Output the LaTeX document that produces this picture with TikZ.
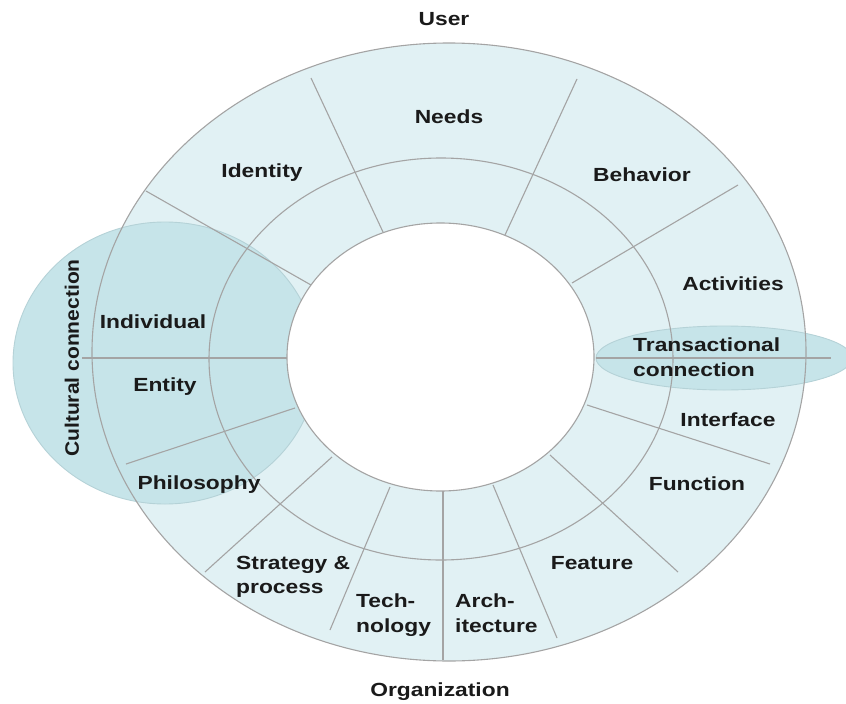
\documentclass[tikz,border=0pt]{standalone}
\usepackage{fontspec}
\newfontfamily\labfont{Liberation Sans}[FakeStretch=1.2]
\newfontfamily\vlabfont{Liberation Sans}[FakeStretch=1.08]
\definecolor{ringfill}{HTML}{E1F1F4}
\definecolor{connfill}{HTML}{C6E4E9}
\definecolor{connline}{HTML}{B5D2D7}
\definecolor{divline}{HTML}{A4A4A4}
\definecolor{txt}{HTML}{1A1A1A}
\begin{document}
\begin{tikzpicture}[x=1pt,y=-1pt,
  lbl/.style={font=\labfont\bfseries\fontsize{19}{24.5}\selectfont, text=txt, inner sep=0pt},
  mlbl/.style={lbl, align=left, anchor=north west},
  vlbl/.style={font=\vlabfont\bfseries\fontsize{19.5}{24}\selectfont, text=txt, inner sep=0pt, rotate=90},
  divider/.style={draw=divline, line width=1.1pt},
  ring/.style={draw=divline, line width=1.1pt}]
\useasboundingbox (0,0) rectangle (846,704);
% base ring
\fill[ringfill] (449,352) ellipse [x radius=357pt, y radius=309pt];
% connection areas
\filldraw[fill=connfill, draw=connline, line width=0.9pt] (165,363) ellipse [x radius=152pt, y radius=141pt];
\filldraw[fill=connfill, draw=connline, line width=0.9pt] (724,358) ellipse [x radius=128pt, y radius=32pt];
% ring outlines
\path[ring] (449,352) ellipse [x radius=357pt, y radius=309pt];
\path[ring] (441,359) ellipse [x radius=232pt, y radius=201pt];
% dividers
\coordinate (d1a) at (383,232); \coordinate (d1b) at (311,78);
\coordinate (d2a) at (505,235); \coordinate (d2b) at (577,79);
\coordinate (d3a) at (572,283); \coordinate (d3b) at (738,185);
\coordinate (d4a) at (596,358); \coordinate (d4b) at (831,358);
\coordinate (d5a) at (587,405); \coordinate (d5b) at (770,464);
\coordinate (d6a) at (550,455); \coordinate (d6b) at (678,572);
\coordinate (d7a) at (493,485); \coordinate (d7b) at (557,638);
\coordinate (d8a) at (443,491); \coordinate (d8b) at (443,660);
\coordinate (d9a) at (390,487); \coordinate (d9b) at (330,630);
\coordinate (d10a) at (332,457); \coordinate (d10b) at (205,572);
\coordinate (d11a) at (295,408); \coordinate (d11b) at (126,464);
\coordinate (d12a) at (287,358); \coordinate (d12b) at (82,358);
\coordinate (d13a) at (311,285); \coordinate (d13b) at (146,191);
\foreach \i in {1,...,13} { \path[divider] (d\i a) -- (d\i b); }
% inner hole
\filldraw[fill=white, draw=divline, line width=1.1pt] (440.5,357) ellipse [x radius=153.5pt, y radius=134pt];
% labels
\node[lbl] (user) at (444,19) {User};
\node[lbl] (needs) at (449,117) {Needs};
\node[lbl] (identity) at (262,173) {Identity};
\node[lbl] (behavior) at (642,175) {Behavior};
\node[lbl] (activities) at (733,284) {Activities};
\node[mlbl] (trans) at (633,338) {Transactional\\connection};
\node[lbl] (interface) at (728,420) {Interface};
\node[lbl] (function) at (697,484) {Function};
\node[lbl] (feature) at (592,563) {Feature};
\node[mlbl] (arch) at (455,594) {Arch-\\itecture};
\node[mlbl] (tech) at (356,594) {Tech-\\nology};
\node[mlbl] (strategy) at (236,556) {Strategy \&\\process};
\node[lbl] (philosophy) at (199,485) {Philosophy};
\node[lbl] (entity) at (165,387) {Entity};
\node[lbl] (individual) at (153,322) {Individual};
\node[vlbl] (cultural) at (72,358) {Cultural connection};
\node[lbl] (org) at (440,692) {Organization};
\end{tikzpicture}
\end{document}
